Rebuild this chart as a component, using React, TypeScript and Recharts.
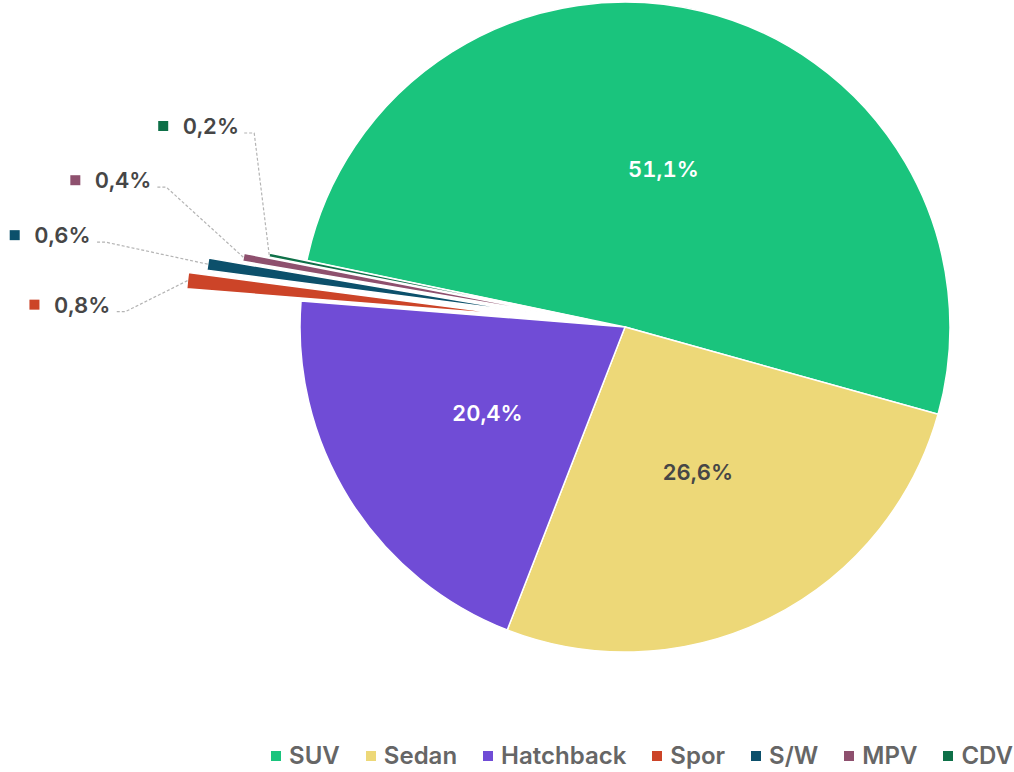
import React from 'react';
import { PieChart, Pie, Cell, Sector, Legend } from 'recharts';

const categories = ['SUV', 'Sedan', 'Hatchback', 'Spor', 'S/W', 'MPV', 'CDV'];
const shares = [51.1, 26.6, 20.4, 0.8, 0.6, 0.4, 0.2];
const colors = ['#1ac47d', '#edd878', '#704cd6', '#cc4428', '#0c506b', '#8e506e', '#0e7048'];

// small slices are pulled out of the pie by these distances (px)
const explode: Record<string, number> = { Spor: 115, 'S/W': 97, MPV: 63, CDV: 38 };
// elbow of the leader line, relative to the outer edge of the slice
const leader: Record<string, [number, number]> = {
  Spor: [-62, 31],
  'S/W': [-102, -22],
  MPV: [-77, -70],
  CDV: [-15, -122],
};

const data = categories.map((name, i) => ({ name, value: shares[i] }));
const RAD = Math.PI / 180;
const FONT = 'Inter, "Noto Sans", sans-serif';
const fmt = (v: number) => `${v.toFixed(1).replace('.', ',')}%`;
const labelStyle = { fontFamily: FONT, fontSize: 22, fontWeight: 600, fontVariantNumeric: 'tabular-nums' };

const renderSlice = (props: any) => {
  const name = props.payload?.name ?? props.name;
  const d = explode[name] ?? 0;
  const mid = props.midAngle ?? (props.startAngle + props.endAngle) / 2;
  return (
    <Sector
      {...props}
      cx={props.cx + d * Math.cos(-mid * RAD)}
      cy={props.cy + d * Math.sin(-mid * RAD)}
    />
  );
};

const renderLabel = (props: any) => {
  const { cx, cy, midAngle, outerRadius, value, index } = props;
  const name = categories[index];
  const d = explode[name];
  const cos = Math.cos(-midAngle * RAD);
  const sin = Math.sin(-midAngle * RAD);

  if (d === undefined) {
    const r = outerRadius * 0.5;
    return (
      <text
        x={cx + r * cos}
        y={cy + r * sin}
        textAnchor="middle"
        dominantBaseline="central"
        fill={index === 1 ? '#464646' : '#ffffff'}
        style={labelStyle}
      >
        {fmt(value)}
      </text>
    );
  }

  const ox = cx + (d + outerRadius) * cos;
  const oy = cy + (d + outerRadius) * sin;
  const [ex, ey] = leader[name];
  const bx = ox + ex;
  const by = oy + ey;
  const tx = bx - 10;
  const textEnd = tx - 5;
  return (
    <g>
      <polyline
        points={`${ox},${oy} ${bx},${by} ${tx},${by}`}
        fill="none"
        stroke="#b4b4b4"
        strokeWidth={1.2}
        strokeDasharray="3 2"
      />
      <rect x={textEnd - 58 - 13 - 10} y={by - 12} width={10} height={10} fill={colors[index]} />
      <text x={textEnd} y={by - 7} textAnchor="end" dominantBaseline="central" fill="#464646" style={labelStyle}>
        {fmt(value)}
      </text>
    </g>
  );
};

const renderLegend = () => (
  <div
    style={{
      display: 'flex',
      justifyContent: 'flex-end',
      alignItems: 'center',
      gap: 26,
      fontFamily: FONT,
      fontWeight: 600,
      fontSize: 24,
      color: '#666666',
    }}
  >
    {categories.map((c, i) => (
      <div key={c} style={{ display: 'flex', alignItems: 'center' }}>
        <span style={{ width: 10, height: 10, background: colors[i], marginRight: 8, display: 'inline-block' }} />
        {c}
      </div>
    ))}
  </div>
);

export default function App() {
  return (
    <div style={{ position: 'absolute', left: 0, top: 0, width: 1014, height: 772, background: '#fff' }}>
      <PieChart width={1014} height={772} margin={{ top: 0, right: 0, bottom: 0, left: 0 }}>
        <Pie
          data={data}
          dataKey="value"
          nameKey="name"
          cx={625}
          cy={327}
          outerRadius={325}
          startAngle={168.2}
          endAngle={168.2 - 360}
          stroke="#ffffff"
          strokeWidth={1.5}
          shape={renderSlice}
          label={renderLabel}
          labelLine={false}
          isAnimationActive={false}
        >
          {data.map((entry, i) => (
            <Cell key={entry.name} fill={colors[i]} />
          ))}
        </Pie>
        <Legend
          verticalAlign="bottom"
          align="right"
          content={renderLegend}
          wrapperStyle={{ left: 0, width: 1013, bottom: 2 }}
        />
      </PieChart>
    </div>
  );
}
